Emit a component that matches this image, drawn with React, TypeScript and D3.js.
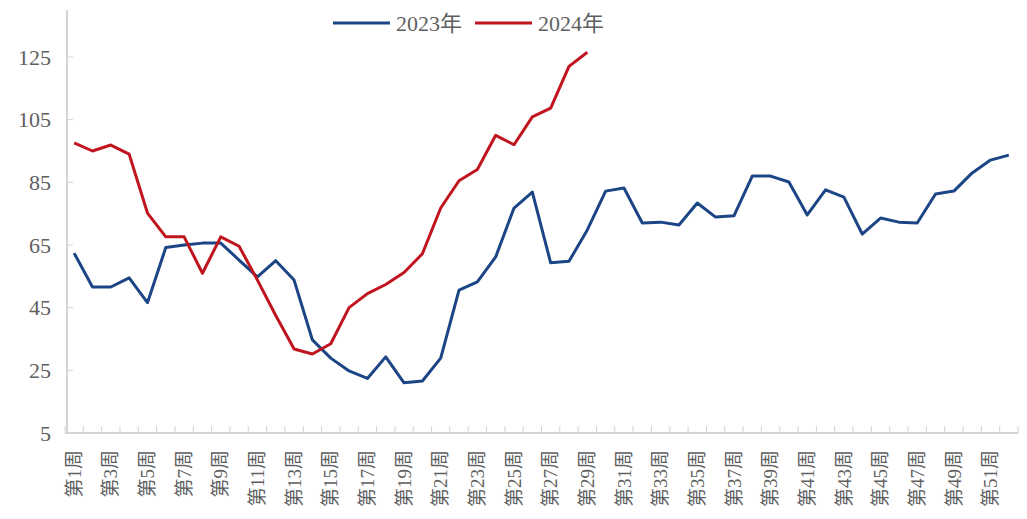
import React from "react";
import * as d3 from "d3";

const weeks: number[] = d3.range(1, 53);
const weekLabels: string[] = weeks.map((w) => `第${w}周`);
const series2023: number[] = [
  62.4, 51.6, 51.6, 54.5, 46.6, 64.2, 65, 65.6, 65.6, 60.2, 54.8, 60, 53.8,
  34.7, 28.9, 24.8, 22.4, 29.3, 21, 21.6, 28.9, 50.6, 53.2, 61.2, 76.8, 81.9,
  59.3, 59.8, 69.8, 82.2, 83.2, 72, 72.3, 71.4, 78.4, 73.9, 74.3, 87, 87, 85.1,
  74.6, 82.6, 80.3, 68.5, 73.6, 72.3, 72, 81.3, 82.2, 88, 92.1, 93.7,
];
const series2024: number[] = [
  97.6, 95, 96.9, 94, 75.2, 67.6, 67.6, 56, 67.6, 64.6, 53.8, 42.5, 31.8, 30.2,
  33.5, 45, 49.5, 52.4, 56.2, 62.2, 76.8, 85.5, 89.1, 100, 97, 105.9, 108.7,
  122, 126.5,
];
const yTicks: number[] = [5, 25, 45, 65, 85, 105, 125];
const seriesNames: string[] = ["2023年", "2024年"];
const colors: string[] = ["#1c4585", "#c0151f"];

const W = 1027;
const H = 519;
const left = 65;
const right = 1018;
const top = 10;
const bottom = 433;

const FONT = "'Times New Roman', 'Liberation Serif', 'Noto Sans CJK SC', serif";
const TXT = "#5f5f5f";
const AX = "#d4d4d4";

export default function App() {
  const x = d3
    .scaleBand<number>()
    .domain(weeks)
    .range([left, right])
    .padding(0);
  const bw = x.bandwidth();
  const cx = (w: number) => (x(w) as number) + bw / 2;
  const y = d3.scaleLinear().domain([5, 140]).range([bottom, top]);

  const line = d3
    .line<number>()
    .x((_, i) => cx(weeks[i]))
    .y((d) => y(d));

  const all = [series2023, series2024];

  const boundaries = weeks.map((w) => x(w) as number).concat([right]);

  return (
    <svg
      width={W}
      height={H}
      style={{ position: "absolute", left: 0, top: 0, background: "#fff" }}
      fontFamily={FONT}
    >
      {/* y axis */}
      <line x1={left + 2} x2={left + 2} y1={top} y2={bottom} stroke={AX} strokeWidth={2} />
      {yTicks.map((t) => (
        <g key={t}>
          {t !== 5 && (
            <line x1={left + 2} x2={left + 8} y1={y(t)} y2={y(t)} stroke={AX} strokeWidth={1} />
          )}
          <text
            x={51}
            y={y(t)}
            dy="0.35em"
            textAnchor="end"
            fontSize={22}
            fill={TXT}
          >
            {t}
          </text>
        </g>
      ))}
      {/* x axis */}
      <line x1={left} x2={right} y1={bottom} y2={bottom} stroke={AX} strokeWidth={2} />
      {boundaries.map((bx, i) => (
        <line key={i} x1={bx} x2={bx} y1={bottom} y2={bottom - 7} stroke={AX} strokeWidth={1} />
      ))}
      {weeks.map((w, i) =>
        i % 2 === 0 ? (
          <text
            key={w}
            transform={`translate(${cx(w)},${bottom + 17}) rotate(-90)`}
            textAnchor="end"
            dy="0.35em"
            fontSize={19}
            fill={TXT}
          >
            {weekLabels[i]}
          </text>
        ) : null
      )}
      {/* series */}
      {all.map((s, i) => (
        <path
          key={i}
          d={line(s) || ""}
          fill="none"
          stroke={colors[i]}
          strokeWidth={3}
          strokeLinejoin="round"
        />
      ))}
      {/* legend */}
      {seriesNames.map((n, i) => {
        const lx = 333 + i * 142;
        return (
          <g key={n}>
            <line x1={lx} x2={lx + 57} y1={23} y2={23} stroke={colors[i]} strokeWidth={3} />
            <text x={lx + 63} y={23} dy="0.35em" fontSize={22} fill={TXT}>
              {n}
            </text>
          </g>
        );
      })}
    </svg>
  );
}
